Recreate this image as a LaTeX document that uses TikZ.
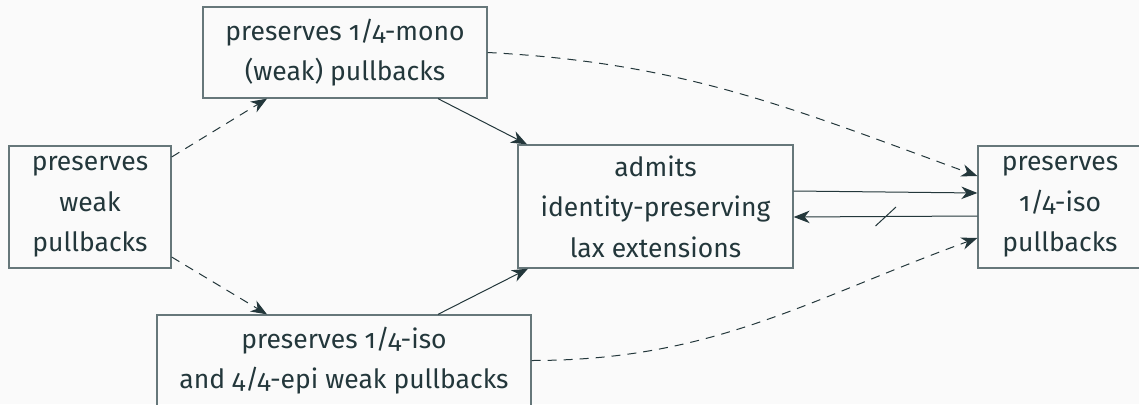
\documentclass[tikz,border=0pt]{standalone}
\usepackage{fontspec}
\setmainfont{Fira Sans}[Numbers=OldStyle]
\usetikzlibrary{arrows.meta,calc}
\definecolor{mtext}{HTML}{23373B}
\definecolor{mbox}{HTML}{66777A}
\definecolor{mbg}{HTML}{FAFAFA}
\tikzset{
  box/.style={draw=mbox, line width=1.3pt, align=center, inner sep=0pt, text=mtext,
    font=\fontsize{26.5}{40.5}\selectfont},
  imp/.style={draw=mtext, line width=1pt, -{Stealth[length=16pt,width=12.5pt,inset=5pt]}},
  weakimp/.style={imp, dash pattern=on 9pt off 7pt},
}
\begin{document}
\begin{tikzpicture}[x=1pt,y=-1pt]
\fill[mbg] (0,0) rectangle (1139,404);
\useasboundingbox (0,0) rectangle (1139,404);
\node[box, minimum width=284pt, minimum height=91pt] (top) at (345,52.5) {preserves 1/4-mono\\(weak) pullbacks};
\node[box, minimum width=162pt, minimum height=122pt] (left) at (90,207) {preserves\\weak\\pullbacks};
\node[box, minimum width=275pt, minimum height=123pt] (mid) at (655.5,206.5) {admits\\identity-preserving\\lax extensions};
\node[box, minimum width=164pt, minimum height=122pt] (right) at (1060,207) {preserves\\1/4-iso\\pullbacks};
\node[box, minimum width=374pt, minimum height=91pt] (bot) at (344,360.5) {preserves 1/4-iso\\and 4/4-epi weak pullbacks};
\draw[weakimp] ([yshift=50pt]left.east) -- ([xshift=-78pt]top.south);
\draw[weakimp] ([yshift=-50pt]left.east) -- ([xshift=-77pt]bot.north);
\draw[imp] ([xshift=93pt]top.south) -- ([xshift=-128.5pt]mid.north);
\draw[imp] ([xshift=94pt]bot.north) -- ([xshift=-127.5pt]mid.south);
\draw[weakimp] (top.east) to[out=-3,in=160] ([yshift=31pt]right.west);
\draw[weakimp] (bot.east) to[out=0,in=200] ([yshift=-31pt]right.west);
\draw[imp] ([yshift=15.5pt]mid.east) -- ([yshift=14pt]right.west);
\draw[imp] ([yshift=-9pt]right.west) -- coordinate[pos=0.5] (s) ([yshift=-10.5pt]mid.east);
\draw[draw=mtext, line width=1pt] ($(s)+(-10,9.5)$) -- ($(s)+(10.5,-9.5)$);
\end{tikzpicture}
\end{document}
